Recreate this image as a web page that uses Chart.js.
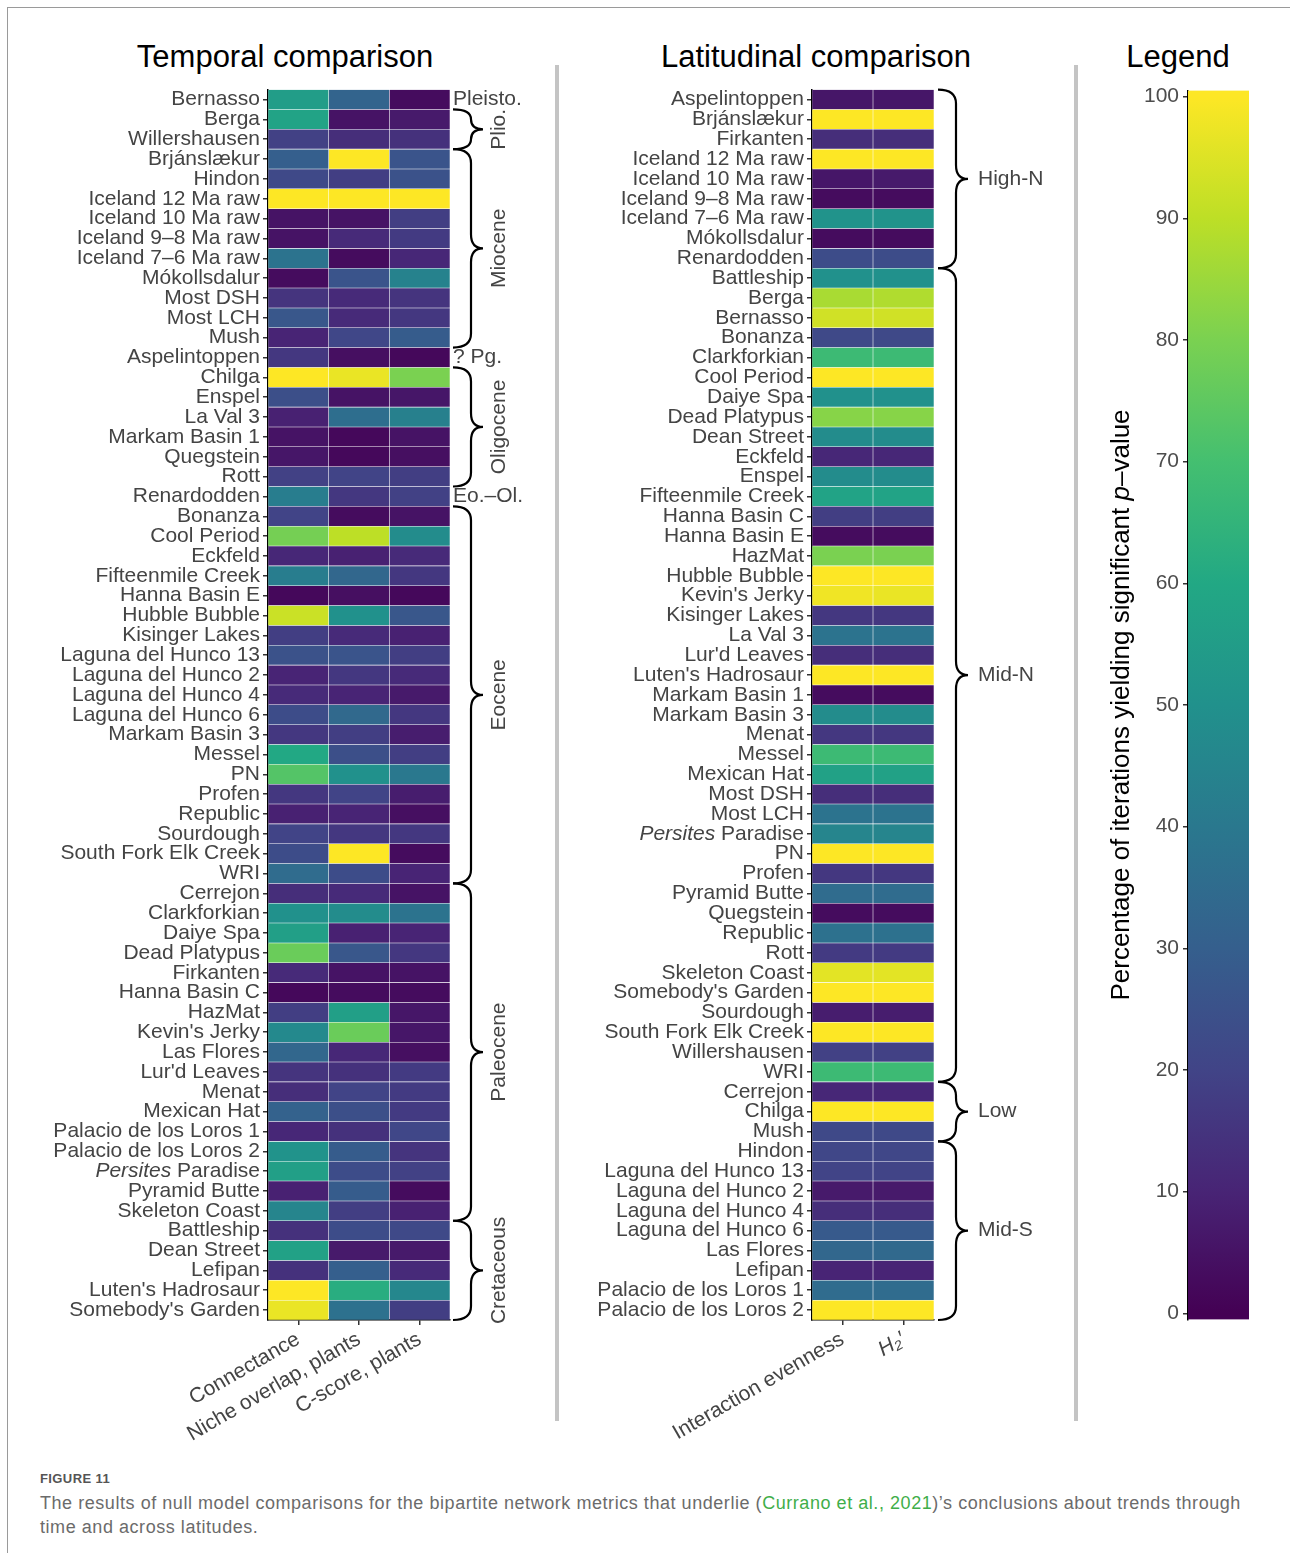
<!DOCTYPE html>
<html>
<head>
<meta charset="utf-8">
<script src="https://cdn.jsdelivr.net/npm/chart.js@4.4.1/dist/chart.umd.min.js"></script>
<style>
  body { margin: 0; background: #fff; width: 1290px; height: 1553px; position: relative; overflow: hidden;
         font-family: "Liberation Sans", Arial, sans-serif; }
  .abs { position: absolute; }
  .frame { left: 7px; top: 7px; width: 1300px; height: 1600px; border-top: 1px solid #9a9a9a; border-left: 1px solid #9a9a9a; }
  .title { top: 37px; font-size: 31px; line-height: 40px; color: #000; white-space: nowrap; transform: translateX(-50%); }
  .sep { top: 65px; width: 4px; height: 1356px; background: #c4c4c4; }
  canvas { position: absolute; }
  .fig { left: 40px; top: 1471px; font-size: 13px; font-weight: bold; color: #555; letter-spacing: 0.4px; }
  .cap { left: 40px; top: 1491px; font-size: 18px; letter-spacing: 0.55px; line-height: 24px; color: #6b6b6b; white-space: nowrap; }
  .cap span { color: #3fae49; }
</style>
</head>
<body>
<div class="abs frame"></div>
<div class="abs title" style="left:285px">Temporal comparison</div>
<div class="abs title" style="left:816px">Latitudinal comparison</div>
<div class="abs title" style="left:1178px">Legend</div>
<div class="abs sep" style="left:555px"></div>
<div class="abs sep" style="left:1074px"></div>

<canvas id="temporal" width="560" height="1386" style="left:0;top:74px"></canvas>
<canvas id="latitudinal" width="514" height="1386" style="left:560px;top:74px"></canvas>
<canvas id="legend" width="210" height="1262" style="left:1080px;top:74px"></canvas>

<div class="abs fig">FIGURE 11</div>
<div class="abs cap">The results of null model comparisons for the bipartite network metrics that underlie (<span>Currano et al., 2021</span>)’s conclusions about trends through<br>time and across latitudes.</div>

<script>
'use strict';

// ---- data ----
var TEMPORAL_SITES = ['Bernasso', 'Berga', 'Willershausen', 'Brjánslækur', 'Hindon', 'Iceland 12 Ma raw',
  'Iceland 10 Ma raw', 'Iceland 9–8 Ma raw', 'Iceland 7–6 Ma raw', 'Mókollsdalur', 'Most DSH', 'Most LCH',
  'Mush', 'Aspelintoppen', 'Chilga', 'Enspel', 'La Val 3', 'Markam Basin 1', 'Quegstein', 'Rott',
  'Renardodden', 'Bonanza', 'Cool Period', 'Eckfeld', 'Fifteenmile Creek', 'Hanna Basin E', 'Hubble Bubble',
  'Kisinger Lakes', 'Laguna del Hunco 13', 'Laguna del Hunco 2', 'Laguna del Hunco 4', 'Laguna del Hunco 6',
  'Markam Basin 3', 'Messel', 'PN', 'Profen', 'Republic', 'Sourdough', 'South Fork Elk Creek', 'WRI',
  'Cerrejon', 'Clarkforkian', 'Daiye Spa', 'Dead Platypus', 'Firkanten', 'Hanna Basin C', 'HazMat',
  "Kevin's Jerky", 'Las Flores', "Lur'd Leaves", 'Menat', 'Mexican Hat', 'Palacio de los Loros 1',
  'Palacio de los Loros 2', 'Persites Paradise', 'Pyramid Butte', 'Skeleton Coast', 'Battleship',
  'Dean Street', 'Lefipan', "Luten's Hadrosaur", "Somebody's Garden"];

var CONNECTANCE   = [55, 58, 19, 30, 22, 100, 5, 5, 38, 3, 15, 27, 10, 16, 100, 24, 9, 5, 6, 19, 42, 20, 79, 11,
  42, 2, 92, 18, 25, 10, 12, 23, 16, 60, 73, 16, 9, 20, 23, 35, 13, 50, 56, 77, 12, 2, 18, 47, 33, 15, 13, 31,
  11, 51, 56, 9, 45, 14, 57, 14, 100, 97];
var NICHE_OVERLAP = [32, 5, 13, 100, 18, 100, 5, 12, 3, 26, 12, 12, 21, 4, 97, 5, 36, 2, 2, 20, 16, 3, 90, 9,
  33, 4, 50, 12, 26, 16, 10, 34, 18, 24, 50, 20, 10, 16, 100, 23, 12, 48, 9, 27, 5, 3, 56, 77, 11, 14, 20, 24,
  14, 29, 23, 29, 18, 23, 7, 30, 62, 37];
var C_SCORE       = [3, 7, 14, 26, 25, 100, 18, 17, 11, 44, 15, 16, 29, 2, 80, 6, 43, 5, 4, 18, 19, 5, 48, 12,
  16, 2, 27, 9, 18, 12, 7, 16, 8, 18, 40, 8, 4, 16, 3, 10, 5, 38, 10, 16, 5, 3, 6, 6, 4, 17, 17, 17,
  21, 15, 19, 3, 9, 22, 7, 12, 46, 18];
var TEMPORAL_METRICS = ['Connectance', 'Niche overlap, plants', 'C-score, plants'];

var LATITUDINAL_SITES = ['Aspelintoppen', 'Brjánslækur', 'Firkanten', 'Iceland 12 Ma raw', 'Iceland 10 Ma raw',
  'Iceland 9–8 Ma raw', 'Iceland 7–6 Ma raw', 'Mókollsdalur', 'Renardodden', 'Battleship', 'Berga', 'Bernasso',
  'Bonanza', 'Clarkforkian', 'Cool Period', 'Daiye Spa', 'Dead Platypus', 'Dean Street', 'Eckfeld', 'Enspel',
  'Fifteenmile Creek', 'Hanna Basin C', 'Hanna Basin E', 'HazMat', 'Hubble Bubble', "Kevin's Jerky",
  'Kisinger Lakes', 'La Val 3', "Lur'd Leaves", "Luten's Hadrosaur", 'Markam Basin 1', 'Markam Basin 3', 'Menat',
  'Messel', 'Mexican Hat', 'Most DSH', 'Most LCH', 'Persites Paradise', 'PN', 'Profen', 'Pyramid Butte',
  'Quegstein', 'Republic', 'Rott', 'Skeleton Coast', "Somebody's Garden", 'Sourdough', 'South Fork Elk Creek',
  'Willershausen', 'WRI', 'Cerrejon', 'Chilga', 'Mush', 'Hindon', 'Laguna del Hunco 13', 'Laguna del Hunco 2',
  'Laguna del Hunco 4', 'Laguna del Hunco 6', 'Las Flores', 'Lefipan', 'Palacio de los Loros 1',
  'Palacio de los Loros 2'];

var INTERACTION_EVENNESS = [6, 100, 13, 100, 6, 3, 51, 3, 23, 50, 87, 93, 22, 68, 100, 50, 82, 48, 11, 48, 58,
  18, 3, 80, 100, 98, 16, 38, 13, 100, 3, 48, 16, 68, 57, 13, 38, 45, 100, 16, 35, 3, 37, 17, 96, 100, 8, 100,
  19, 68, 11, 100, 22, 21, 20, 7, 13, 28, 33, 10, 35, 100];
var H2_PRIME             = [6, 100, 13, 100, 7, 3, 51, 3, 23, 50, 88, 93, 22, 68, 100, 50, 82, 48, 11, 48, 58,
  18, 3, 80, 100, 97, 16, 38, 13, 100, 3, 48, 16, 68, 57, 13, 38, 45, 100, 16, 35, 3, 37, 17, 96, 100, 8, 100,
  19, 68, 11, 100, 22, 21, 20, 7, 13, 28, 34, 10, 35, 100];
var LATITUDINAL_METRICS = ['Interaction evenness', 'H₂′'];

var TEMPORAL_GROUPS = [
  { label: 'Pleisto.',   first: 'Bernasso',      last: 'Bernasso' },
  { label: 'Plio.',      first: 'Berga',         last: 'Willershausen' },
  { label: 'Miocene',    first: 'Brjánslækur',   last: 'Mush' },
  { label: '? Pg.',      first: 'Aspelintoppen', last: 'Aspelintoppen' },
  { label: 'Oligocene',  first: 'Chilga',        last: 'Rott' },
  { label: 'Eo.–Ol.',    first: 'Renardodden',   last: 'Renardodden' },
  { label: 'Eocene',     first: 'Bonanza',       last: 'WRI' },
  { label: 'Paleocene',  first: 'Cerrejon',      last: 'Skeleton Coast' },
  { label: 'Cretaceous', first: 'Battleship',    last: "Somebody's Garden" }
];
var LATITUDINAL_GROUPS = [
  { label: 'High-N', first: 'Aspelintoppen', last: 'Renardodden' },
  { label: 'Mid-N',  first: 'Battleship',    last: 'WRI' },
  { label: 'Low',    first: 'Cerrejon',      last: 'Mush' },
  { label: 'Mid-S',  first: 'Hindon',        last: 'Palacio de los Loros 2' }
];

var LEGEND_TICKS = [0, 10, 20, 30, 40, 50, 60, 70, 80, 90, 100];
var LEGEND_MIN = -0.5, LEGEND_MAX = 100.5;
var ITALIC_SITE = 'Persites Paradise';

// ---- helpers ----
var FONT = '"Liberation Sans", Arial, sans-serif';
var TEXT = '#444';
var VIRIDIS = ['#440154', '#482475', '#414487', '#355f8d', '#2a788e', '#21918c',
               '#22a884', '#44bf70', '#7ad151', '#bddf26', '#fde725'];

function hex(c) { return [1, 3, 5].map(function (i) { return parseInt(c.substr(i, 2), 16); }); }

function viridis(v) {
  var t = Math.max(0, Math.min(1, v / 100)) * 10;
  var i = Math.min(9, Math.floor(t)), f = t - i;
  var a = hex(VIRIDIS[i]), b = hex(VIRIDIS[i + 1]);
  var rgb = a.map(function (x, k) { return Math.round(x + (b[k] - x) * f); });
  return 'rgb(' + rgb.join(',') + ')';
}

function drawBrace(ctx, x0, top, bottom, w) {
  var mid = (top + bottom) / 2, xm = x0 + w * 0.6, r = Math.min((bottom - top) / 4, 14);
  ctx.beginPath();
  ctx.moveTo(x0, top);
  ctx.quadraticCurveTo(xm, top, xm, top + r);
  ctx.lineTo(xm, mid - r);
  ctx.quadraticCurveTo(xm, mid, x0 + w, mid);
  ctx.quadraticCurveTo(xm, mid, xm, mid + r);
  ctx.lineTo(xm, bottom - r);
  ctx.quadraticCurveTo(xm, bottom, x0, bottom);
  ctx.lineWidth = 2.2;
  ctx.strokeStyle = '#000';
  ctx.stroke();
}

// braces and group names to the right of a heatmap
function groupsPlugin(groups, cfg) {
  return {
    id: 'groups',
    afterDraw: function (chart) {
      var ctx = chart.ctx, y = chart.scales.y, area = chart.chartArea, labels = chart.data.labels;
      var half = (y.getPixelForValue(1) - y.getPixelForValue(0)) / 2;
      ctx.save();
      ctx.font = '21px ' + FONT;
      ctx.fillStyle = TEXT;
      ctx.textBaseline = 'middle';
      groups.forEach(function (g) {
        var top = y.getPixelForValue(labels.indexOf(g.first)) - half;
        var bottom = y.getPixelForValue(labels.indexOf(g.last)) + half;
        var mid = (top + bottom) / 2, x0 = area.right + cfg.gap;
        if (g.first === g.last) {
          ctx.textAlign = 'left';
          ctx.fillText(g.label, x0, mid);
          return;
        }
        drawBrace(ctx, x0, top, bottom, cfg.width);
        if (cfg.rotate) {
          ctx.save();
          ctx.translate(area.right + cfg.labelOffset, mid);
          ctx.rotate(-Math.PI / 2);
          ctx.textAlign = 'center';
          ctx.fillText(g.label, 0, 0);
          ctx.restore();
        } else {
          ctx.textAlign = 'left';
          ctx.fillText(g.label, x0 + cfg.width + 10, mid);
        }
      });
      ctx.restore();
    }
  };
}

// "Persites" is set in italics, which the tick renderer can't mix
var italicSitePlugin = {
  id: 'italicSite',
  afterDraw: function (chart) {
    var y = chart.scales.y, ctx = chart.ctx;
    var idx = chart.data.labels.indexOf(ITALIC_SITE);
    if (idx < 0) return;
    var x = chart.chartArea.left - 5 - 3, py = y.getPixelForValue(idx);
    var rest = ITALIC_SITE.replace('Persites', '');
    ctx.save();
    ctx.textAlign = 'right';
    ctx.textBaseline = 'middle';
    ctx.fillStyle = TEXT;
    ctx.font = '21px ' + FONT;
    ctx.fillText(rest, x, py);
    var w = ctx.measureText(rest).width;
    ctx.font = 'italic 21px ' + FONT;
    ctx.fillText('Persites', x - w, py);
    ctx.restore();
  }
};

function heatmap(id, sites, columns, metrics, axisWidth, padRight, groups, groupCfg) {
  var datasets = columns.map(function (vals, j) {
    return {
      data: vals.map(function () { return [j, j + 1]; }),
      backgroundColor: vals.map(viridis),
      borderColor: 'rgba(255,255,255,0.14)',
      borderWidth: 0.6,
      borderSkipped: false,
      barPercentage: 1,
      categoryPercentage: 1
    };
  });

  new Chart(document.getElementById(id), {
    type: 'bar',
    data: { labels: sites, datasets: datasets },
    options: {
      indexAxis: 'y',
      responsive: false,
      animation: false,
      events: [],
      layout: { padding: { top: 0, right: padRight, left: 0, bottom: 0 } },
      plugins: { legend: { display: false }, tooltip: { enabled: false } },
      scales: {
        y: {
          type: 'category',
          stacked: true,
          offset: true,
          afterFit: function (s) { s.width = axisWidth; },
          grid: { offset: false, drawOnChartArea: false, tickLength: 5, color: '#333', lineWidth: 1.5 },
          border: { color: '#000', width: 1.5 },
          ticks: {
            autoSkip: false,
            padding: 3,
            color: TEXT,
            font: { size: 21, family: FONT },
            callback: function (v) {
              var name = this.getLabelForValue(v);
              return name === ITALIC_SITE ? '' : name;
            }
          }
        },
        x: {
          type: 'linear',
          stacked: false,
          min: 0,
          max: metrics.length,
          afterBuildTicks: function (s) {
            s.ticks = metrics.map(function (_, j) { return { value: j + 0.5 }; });
          },
          afterFit: function (s) { s.height = 140; },
          grid: { drawOnChartArea: false, tickLength: 5, color: '#333', lineWidth: 1.5 },
          border: { color: '#000', width: 1.5 },
          ticks: {
            autoSkip: false,
            minRotation: 30,
            maxRotation: 30,
            padding: 2,
            color: TEXT,
            font: function (c) {
              return { size: 21, family: FONT, style: metrics[c.index] === 'H₂′' ? 'italic' : 'normal' };
            },
            callback: function (v, i) { return metrics[i]; }
          }
        }
      }
    },
    plugins: [groupsPlugin(groups, groupCfg), italicSitePlugin]
  });
}

heatmap('temporal', TEMPORAL_SITES, [CONNECTANCE, NICHE_OVERLAP, C_SCORE], TEMPORAL_METRICS,
  268, 110, TEMPORAL_GROUPS, { gap: 3, width: 30, rotate: true, labelOffset: 49 });

heatmap('latitudinal', LATITUDINAL_SITES, [INTERACTION_EVENNESS, H2_PRIME], LATITUDINAL_METRICS,
  252, 140, LATITUDINAL_GROUPS, { gap: 4, width: 30, rotate: false });

// ---- colour bar ----
var legendTitlePlugin = {
  id: 'legendTitle',
  afterDraw: function (chart) {
    var ctx = chart.ctx, area = chart.chartArea;
    var parts = [['Percentage of iterations yielding significant ', ''], ['p', 'italic '], ['–value', '']];
    ctx.save();
    ctx.translate(42, (area.top + area.bottom) / 2);
    ctx.rotate(-Math.PI / 2);
    ctx.fillStyle = '#000';
    ctx.textBaseline = 'middle';
    var total = 0;
    parts.forEach(function (p) { ctx.font = p[1] + '26px ' + FONT; total += ctx.measureText(p[0]).width; });
    var x = -total / 2;
    parts.forEach(function (p) {
      ctx.font = p[1] + '26px ' + FONT;
      ctx.fillText(p[0], x, 0);
      x += ctx.measureText(p[0]).width;
    });
    ctx.restore();
  }
};

new Chart(document.getElementById('legend'), {
  type: 'bar',
  data: {
    labels: [''],
    datasets: [{
      data: [[LEGEND_MIN, LEGEND_MAX]],
      backgroundColor: function (c) {
        var y = c.chart.scales.y;
        if (!y) return VIRIDIS[0];
        var p0 = y.getPixelForValue(0), p1 = y.getPixelForValue(100);
        if (!isFinite(p0) || !isFinite(p1)) return VIRIDIS[0];
        var g = c.chart.ctx.createLinearGradient(0, p0, 0, p1);
        VIRIDIS.forEach(function (col, i) { g.addColorStop(i / 10, col); });
        return g;
      },
      borderWidth: 0,
      barPercentage: 1,
      categoryPercentage: 1
    }]
  },
  options: {
    responsive: false,
    animation: false,
    events: [],
    layout: { padding: { top: 0, bottom: 0, left: 0, right: 41 } },
    plugins: { legend: { display: false }, tooltip: { enabled: false } },
    scales: {
      x: { display: false },
      y: {
        min: LEGEND_MIN,
        max: LEGEND_MAX,
        afterBuildTicks: function (s) { s.ticks = LEGEND_TICKS.map(function (v) { return { value: v }; }); },
        afterFit: function (s) { s.width = 108; },
        grid: { drawOnChartArea: false, tickLength: 5, color: '#333', lineWidth: 1.5 },
        border: { color: '#000', width: 1.5 },
        ticks: { padding: 4, color: '#4d4d4d', font: { size: 21, family: FONT } }
      }
    }
  },
  plugins: [legendTitlePlugin]
});
</script>
</body>
</html>
